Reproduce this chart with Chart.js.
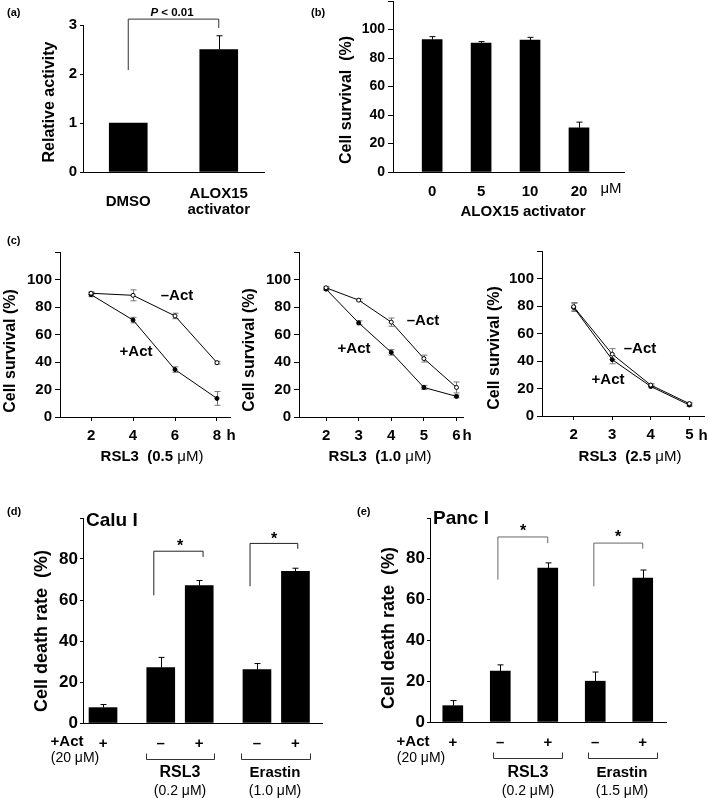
<!DOCTYPE html>
<html>
<head>
<meta charset="utf-8">
<script src="https://cdn.jsdelivr.net/npm/chart.js@4.4.1/dist/chart.umd.min.js"></script>
<style>
  body { margin: 0; background: #fff; }
  #page { position: relative; width: 709px; height: 798px; overflow: hidden; background: #fff; }
  #page canvas { position: absolute; }
</style>
</head>
<body>
<div id="page">
  <canvas id="ca"></canvas>
  <canvas id="cb"></canvas>
  <canvas id="cc1"></canvas>
  <canvas id="cc2"></canvas>
  <canvas id="cc3"></canvas>
  <canvas id="cd"></canvas>
  <canvas id="ce"></canvas>
</div>
<script>
// (a) relative activity
const aLabels = [['DMSO'], ['ALOX15', 'activator']];
const aValues = [1.0, 2.5];
const aErrors = [0, 0.28];

// (b) survival vs activator dose
const bDoses = ['0', '5', '10', '20'];
const bValues = [93, 90.5, 92.5, 31];
const bErrors = [2, 1, 2, 4];

// (c) survival time courses, RSL3 0.5 / 1.0 / 2.5 uM
const c1Hours = [2, 4, 6, 8];
const c1Minus = [90, 88.5, 73.5, 39.5];
const c1MinusErr = [1, 4, 2, 1];
const c1Plus = [89, 70.5, 34.5, 13.5];
const c1PlusErr = [1.5, 2, 2, 5];

const c2Hours = [2, 3, 4, 5, 6];
const c2Minus = [94, 85, 69, 42.5, 21.5];
const c2MinusErr = [1, 1, 3, 2.5, 4];
const c2Plus = [93, 68.5, 47, 21.5, 15];
const c2PlusErr = [1, 1.5, 2, 1.5, 1];

const c3Hours = [2, 3, 4, 5];
const c3Minus = [79.5, 45, 22.5, 9];
const c3MinusErr = [3, 4, 1, 1];
const c3Plus = [79, 41, 21.5, 8];
const c3PlusErr = [3, 3, 1, 1];

// (d) Calu I, (e) Panc I cell death
const actSigns = ['+', '\u2013', '+', '\u2013', '+'];
const dValues = [7.5, 27, 67, 26, 74];
const dErrors = [1.5, 5, 2.5, 3, 1.5];
const eValues = [8, 25, 75.5, 20, 70.5];
const eErrors = [2.5, 3, 2.5, 4.5, 4];

const FONT = "'Liberation Sans', Arial, Helvetica, sans-serif";
const bold = (size) => ({ family: FONT, size: size, weight: 'bold' });

// error bars, brackets and free text
function makeExtras(spec) {
  return {
    id: 'extras',
    beforeDatasetsDraw(chart) {
      const { ctx } = chart;
      const y = chart.scales.y;
      chart.data.datasets.forEach((ds, i) => {
        if (!ds.errors) return;
        ctx.save();
        ctx.strokeStyle = ds.errorColor || '#000';
        ctx.lineWidth = 1;
        chart.getDatasetMeta(i).data.forEach((el, j) => {
          const e = ds.errors[j];
          if (!e) return;
          const d = ds.data[j];
          const v = typeof d === 'object' ? d.y : d;
          const top = y.getPixelForValue(v + e);
          const bot = y.getPixelForValue(ds.oneSided ? v : v - e);
          const xp = Math.round(el.x) + 0.5;
          ctx.beginPath();
          ctx.moveTo(xp, bot); ctx.lineTo(xp, top);
          ctx.moveTo(xp - 3, top); ctx.lineTo(xp + 3, top);
          if (!ds.oneSided) { ctx.moveTo(xp - 3, bot); ctx.lineTo(xp + 3, bot); }
          ctx.stroke();
        });
        ctx.restore();
      });
    },
    afterDraw(chart) {
      const { ctx } = chart;
      const x = chart.scales.x, y = chart.scales.y;
      const ox = spec.ox, oy = spec.oy;
      ctx.save();
      ctx.lineWidth = 1;
      (spec.brackets || []).forEach(b => {
        ctx.strokeStyle = b.color || '#000';
        ctx.beginPath();
        b.path.forEach(([vx, vy], k) => {
          const px = x.getPixelForValue(vx), py = y.getPixelForValue(vy);
          k ? ctx.lineTo(px, py) : ctx.moveTo(px, py);
        });
        ctx.stroke();
      });
      (spec.lines || []).forEach(l => {
        ctx.strokeStyle = l.color || '#000';
        ctx.beginPath();
        l.path.forEach(([px, py], k) => {
          k ? ctx.lineTo(px - ox + 0.5, py - oy + 0.5) : ctx.moveTo(px - ox + 0.5, py - oy + 0.5);
        });
        ctx.stroke();
      });
      ctx.fillStyle = '#000';
      ctx.textBaseline = 'middle';
      (spec.texts || []).forEach(t => {
        const parts = t.parts || [[t.font, t.text]];
        let w = 0;
        parts.forEach(([fnt, s]) => { ctx.font = fnt + ' ' + FONT; w += ctx.measureText(s).width; });
        ctx.save();
        ctx.translate(t.x - ox, t.y - oy);
        if (t.rot) ctx.rotate(-Math.PI / 2);
        let cx = t.align === 'left' ? 0 : -w / 2;
        ctx.textAlign = 'left';
        parts.forEach(([fnt, s]) => {
          ctx.font = fnt + ' ' + FONT;
          ctx.fillText(s, cx, 0);
          cx += ctx.measureText(s).width;
        });
        ctx.restore();
      });
      ctx.restore();
    }
  };
}

function makePanel(id, box, area, config, spec) {
  const cv = document.getElementById(id);
  cv.style.left = box.l + 'px';
  cv.style.top = box.t + 'px';
  cv.style.width = box.w + 'px';
  cv.style.height = box.h + 'px';
  cv.width = box.w;
  cv.height = box.h;
  const o = config.options;
  o.responsive = false;
  o.animation = false;
  o.devicePixelRatio = 1;
  o.layout = { padding: { left: 0, top: area.t - box.t, right: box.l + box.w - area.r, bottom: 0 } };
  o.scales.y.afterFit = (s) => { s.width = area.l - box.l; };
  o.scales.x.afterFit = (s) => { s.height = box.t + box.h - area.b; };
  o.plugins = { legend: { display: false }, tooltip: { enabled: false } };
  spec.ox = box.l;
  spec.oy = box.t;
  config.plugins = [makeExtras(spec)];
  return new Chart(cv, config);
}

const axisBorder = { color: '#000', width: 1 };

// ---------- (a) ----------
makePanel('ca', { l: 0, t: 0, w: 300, h: 222 }, { l: 83, r: 264, t: 25, b: 172 }, {
  type: 'bar',
  data: {
    labels: aLabels,
    datasets: [{ data: aValues, errors: aErrors, oneSided: true, backgroundColor: '#000', barThickness: 38 }]
  },
  options: {
    scales: {
      x: {
        type: 'category', offset: true, grid: { display: false }, border: axisBorder,
        ticks: { color: '#000', font: { ...bold(15), lineHeight: 1.07 }, padding: 14, crossAlign: 'center', maxRotation: 0, autoSkip: false }
      },
      y: {
        min: 0, max: 3, border: axisBorder,
        grid: { drawOnChartArea: false, tickLength: 3, tickColor: '#000' },
        ticks: { stepSize: 1, color: '#000', font: bold(15), padding: 3 }
      }
    }
  }
}, {
  brackets: [{ path: [[0, 2.08], [0, 3.12], [1, 3.12], [1, 2.94]], color: '#333' }],
  texts: [
    { text: '(a)', font: 'bold 11px', x: 7, y: 13, align: 'left' },
    { parts: [['italic bold 11.5px', 'P'], ['bold 11.5px', ' < 0.01']], x: 172, y: 13 },
    { text: 'Relative activity', font: 'bold 16px', x: 50, y: 102, rot: true }
  ]
});

// ---------- (b) ----------
makePanel('cb', { l: 300, t: -12, w: 330, h: 234 }, { l: 393, r: 624, t: 1, b: 172 }, {
  type: 'bar',
  data: {
    datasets: [{
      data: bValues.map((v, i) => ({ x: i + 1, y: v })),
      errors: bErrors, oneSided: true, backgroundColor: '#000', barThickness: 20
    }]
  },
  options: {
    scales: {
      x: {
        type: 'linear', offset: false, min: 0.2, max: 4.92, grid: { display: false }, border: axisBorder,
        afterBuildTicks: (s) => { s.ticks = bDoses.map((d, i) => ({ value: i + 1 })); },
        ticks: { color: '#000', font: bold(15), padding: 3, maxRotation: 0, callback: (v, i) => bDoses[i] }
      },
      y: {
        min: 0, max: 120, border: axisBorder,
        grid: { drawOnChartArea: false, tickLength: 5, tickColor: '#000' },
        ticks: { stepSize: 20, color: '#000', font: bold(14), padding: 3, callback: (v) => (v === 120 ? '' : v) }
      }
    }
  }
}, {
  texts: [
    { text: '(b)', font: 'bold 11px', x: 311, y: 13, align: 'left' },
    { text: 'Cell survival  (%)', font: 'bold 16px', x: 347, y: 100, rot: true },
    { text: '\u03bcM', font: '15px', x: 611, y: 189 },
    { text: 'ALOX15 activator', font: 'bold 15px', x: 523, y: 212 }
  ]
});

// ---------- (c) ----------
function timeCourse(id, box, area, hours, minus, minusErr, plus, plusErr, xMin, xMax, spec) {
  const pts = (vals) => hours.map((h, i) => ({ x: h, y: vals[i] }));
  return makePanel(id, box, area, {
    type: 'line',
    data: {
      datasets: [
        {
          label: '-Act', data: pts(minus), errors: minusErr, errorColor: '#777',
          borderColor: '#000', borderWidth: 1, tension: 0,
          pointRadius: 2, pointBackgroundColor: '#fff', pointBorderColor: '#000', pointBorderWidth: 1
        },
        {
          label: '+Act', data: pts(plus), errors: plusErr, errorColor: '#777',
          borderColor: '#000', borderWidth: 1, tension: 0,
          pointRadius: 2, pointBackgroundColor: '#000', pointBorderColor: '#000', pointBorderWidth: 1
        }
      ]
    },
    options: {
      scales: {
        x: {
          type: 'linear', min: xMin, max: xMax, border: axisBorder,
          grid: { drawOnChartArea: false, tickLength: 4, tickColor: '#000' },
          afterBuildTicks: (s) => { s.ticks = hours.map(h => ({ value: h })); },
          ticks: { color: '#000', font: bold(15), padding: 6, maxRotation: 0 }
        },
        y: {
          min: 0, max: 120, border: axisBorder,
          grid: { drawOnChartArea: false, tickLength: 5, tickColor: '#000' },
          ticks: { stepSize: 20, color: '#000', font: bold(15), padding: 3, callback: (v) => (v === 120 ? '' : v) }
        }
      }
    }
  }, spec);
}

const rsl3Title = (conc, x) => ({ parts: [['bold 15px', 'RSL3  (' + conc + ' '], ['15px', '\u03bcM)']], x: x, y: 457 });

timeCourse('cc1', { l: 0, t: 228, w: 236, h: 242 }, { l: 60, r: 230, t: 252, b: 417 },
  c1Hours, c1Minus, c1MinusErr, c1Plus, c1PlusErr, 0.52, 8.62, {
    texts: [
      { text: '(c)', font: 'bold 11px', x: 7, y: 241, align: 'left' },
      { text: 'Cell survival (%)', font: 'bold 16px', x: 11, y: 351, rot: true },
      { text: '\u2013Act', font: 'bold 15px', x: 177, y: 296 },
      { text: '+Act', font: 'bold 15px', x: 136, y: 352 },
      { text: 'h', font: 'bold 15px', x: 231, y: 436 },
      rsl3Title('0.5', 152)
    ]
  });

timeCourse('cc2', { l: 236, t: 228, w: 240, h: 242 }, { l: 299, r: 463, t: 252, b: 417 },
  c2Hours, c2Minus, c2MinusErr, c2Plus, c2PlusErr, 1.17, 6.2, {
    texts: [
      { text: 'Cell survival (%)', font: 'bold 16px', x: 250, y: 350, rot: true },
      { text: '\u2013Act', font: 'bold 15px', x: 423, y: 321 },
      { text: '+Act', font: 'bold 15px', x: 354, y: 349 },
      { text: 'h', font: 'bold 15px', x: 467, y: 436 },
      rsl3Title('1.0', 380)
    ]
  });

timeCourse('cc3', { l: 468, t: 228, w: 241, h: 242 }, { l: 542, r: 706, t: 251, b: 416 },
  c3Hours, c3Minus, c3MinusErr, c3Plus, c3PlusErr, 1.18, 5.38, {
    texts: [
      { text: 'Cell survival (%)', font: 'bold 16px', x: 495, y: 348, rot: true },
      { text: '\u2013Act', font: 'bold 15px', x: 640, y: 349 },
      { text: '+Act', font: 'bold 15px', x: 608, y: 380 },
      { text: 'h', font: 'bold 15px', x: 703, y: 436 },
      rsl3Title('2.5', 630)
    ]
  });

// ---------- (d) / (e) ----------
function deathPanel(id, box, area, slots, values, errors, barW, xMin, xMax, spec) {
  return makePanel(id, box, area, {
    type: 'bar',
    data: {
      datasets: [{
        data: values.map((v, i) => ({ x: slots[i], y: v })),
        errors: errors, oneSided: true, backgroundColor: '#000', barThickness: barW
      }]
    },
    options: {
      scales: {
        x: {
          type: 'linear', offset: false, min: xMin, max: xMax, grid: { display: false }, border: axisBorder,
          afterBuildTicks: (s) => { s.ticks = slots.map(v => ({ value: v })); },
          ticks: { color: '#000', font: bold(15), padding: 4, maxRotation: 0, callback: (v, i) => actSigns[i] }
        },
        y: {
          min: 0, max: 100, border: axisBorder,
          grid: { drawOnChartArea: false, tickLength: 3, tickColor: '#000' },
          ticks: { stepSize: 10, color: '#000', font: bold(17), padding: 2, callback: (v) => (v % 20 === 0 && v < 100 ? v : '') }
        }
      }
    }
  }, spec);
}

const groupLine = (x0, x1, y) => ({ path: [[x0, y - 6], [x0, y], [x1, y], [x1, y - 6]], color: '#333' });

deathPanel('cd', { l: 0, t: 498, w: 350, h: 300 }, { l: 83, r: 322, t: 518, b: 723 },
  [1, 2.5, 3.5, 5, 6], dValues, dErrors, 28, 0.48, 6.69, {
    brackets: [
      { path: [[2.32, 62.3], [2.32, 83.8], [3.6, 83.8], [3.6, 81]], color: '#222' },
      { path: [[4.82, 66.7], [4.82, 87.6], [6.06, 87.6], [6.06, 85]], color: '#222' }
    ],
    lines: [groupLine(146, 214, 759), groupLine(241, 310, 759)],
    texts: [
      { text: '(d)', font: 'bold 11px', x: 7, y: 512, align: 'left' },
      { text: 'Calu I', font: 'bold 19px', x: 86, y: 521, align: 'left' },
      { text: 'Cell death rate  (%)', font: 'bold 18px', x: 42, y: 631, rot: true },
      { text: '*', font: 'bold 16px', x: 180, y: 547 },
      { text: '*', font: 'bold 16px', x: 274, y: 540 },
      { text: '+Act', font: 'bold 15px', x: 67, y: 742 },
      { parts: [['14px', '(20 \u03bcM)']], x: 75, y: 758 },
      { text: 'RSL3', font: 'bold 16px', x: 180, y: 773 },
      { parts: [['14px', '(0.2 \u03bcM)']], x: 180, y: 791 },
      { text: 'Erastin', font: 'bold 15px', x: 275, y: 773 },
      { parts: [['14px', '(1.0 \u03bcM)']], x: 275, y: 791 }
    ]
  });

deathPanel('ce', { l: 350, t: 498, w: 359, h: 300 }, { l: 430, r: 666, t: 518, b: 722 },
  [1, 2, 3, 4, 5], eValues, eErrors, 20, 0.52, 5.49, {
    brackets: [
      { path: [[1.95, 69.8], [1.95, 90.7], [3.0, 90.7], [3.0, 87.7]], color: '#666' },
      { path: [[3.97, 66.5], [3.97, 87.7], [5.0, 87.7], [5.0, 85]], color: '#666' }
    ],
    lines: [groupLine(493, 562, 758), groupLine(588, 657, 758)],
    texts: [
      { text: '(e)', font: 'bold 11px', x: 357, y: 512, align: 'left' },
      { text: 'Panc I', font: 'bold 19px', x: 433, y: 519, align: 'left' },
      { text: 'Cell death rate  (%)', font: 'bold 18px', x: 389, y: 628, rot: true },
      { text: '*', font: 'bold 16px', x: 523, y: 532 },
      { text: '*', font: 'bold 16px', x: 618, y: 538 },
      { text: '+Act', font: 'bold 15px', x: 413, y: 742 },
      { parts: [['14px', '(20 \u03bcM)']], x: 421, y: 758 },
      { text: 'RSL3', font: 'bold 16px', x: 528, y: 773 },
      { parts: [['14px', '(0.2 \u03bcM)']], x: 528, y: 791 },
      { text: 'Erastin', font: 'bold 15px', x: 622, y: 773 },
      { parts: [['14px', '(1.5 \u03bcM)']], x: 622, y: 791 }
    ]
  });
</script>
</body>
</html>
